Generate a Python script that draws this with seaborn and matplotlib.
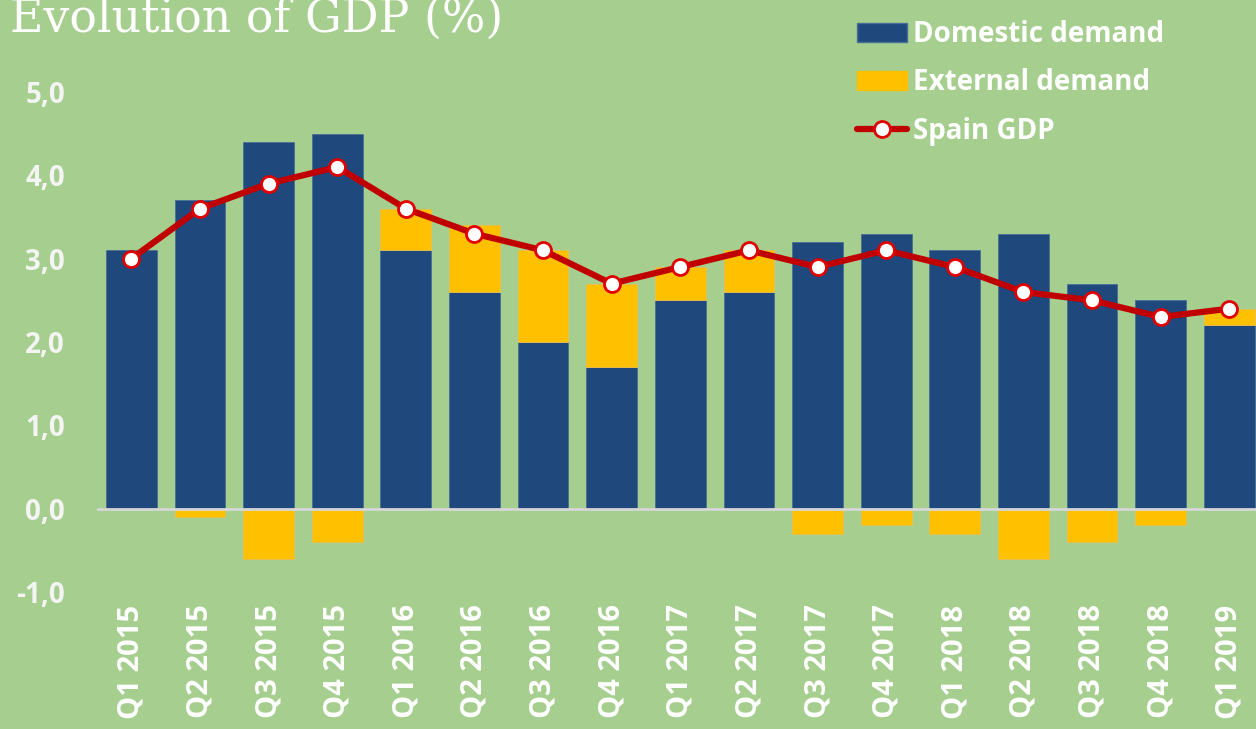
import matplotlib
matplotlib.use("Agg")
import matplotlib.pyplot as plt
from matplotlib.patches import Patch
from matplotlib.lines import Line2D
import numpy as np
import pandas as pd
import seaborn as sns

quarters = ["Q1 2015", "Q2 2015", "Q3 2015", "Q4 2015",
            "Q1 2016", "Q2 2016", "Q3 2016", "Q4 2016",
            "Q1 2017", "Q2 2017", "Q3 2017", "Q4 2017",
            "Q1 2018", "Q2 2018", "Q3 2018", "Q4 2018", "Q1 2019"]
domestic = [3.1, 3.7, 4.4, 4.5, 3.1, 2.6, 2.0, 1.7, 2.5, 2.6, 3.2, 3.3, 3.1, 3.3, 2.7, 2.5, 2.2]
external = [0.0, -0.1, -0.6, -0.4, 0.5, 0.8, 1.1, 1.0, 0.4, 0.5, -0.3, -0.2, -0.3, -0.6, -0.4, -0.2, 0.2]
gdp = [3.0, 3.6, 3.9, 4.1, 3.6, 3.3, 3.1, 2.7, 2.9, 3.1, 2.9, 3.1, 2.9, 2.6, 2.5, 2.3, 2.4]
y_ticks = [-1.0, 0.0, 1.0, 2.0, 3.0, 4.0, 5.0]

BG = "#a6ce8e"
NAVY = "#1f497d"
GOLD = "#ffc000"
RED = "#c00000"
LIGHT = "#f4f4f4"

sns.set_theme(style="white")
plt.rcParams["font.family"] = ["Open Sans", "DejaVu Sans"]

df = pd.DataFrame({"Quarter": quarters, "Domestic": domestic,
                   "External": external, "GDP": gdp})
pos = np.arange(len(df))
# external demand sits on top of domestic when positive, below zero when negative
ext_bottom = np.where(df["External"] > 0, df["Domestic"], 0.0)

fig = plt.figure(figsize=(12.56, 7.29), dpi=100, facecolor=BG)
ax = fig.add_axes([97 / 1256, 137 / 729, 1 - 97 / 1256, 500 / 729])
ax.set_facecolor(BG)

sns.barplot(data=df, x="Quarter", y="Domestic", color=NAVY, saturation=1,
            width=0.74, edgecolor="#4a6f98", linewidth=0.6, ax=ax, zorder=2)
ax.bar(pos, df["External"], bottom=ext_bottom, width=0.74, color=GOLD,
       edgecolor="#e8c050", linewidth=0.6, zorder=2)
ax.axhline(0, color="#d6d6d6", linewidth=2, zorder=3)
ax.plot(pos, df["GDP"], color=RED, linewidth=4.5, marker="o", markersize=11.5,
        markerfacecolor="white", markeredgecolor="#e00000", markeredgewidth=2,
        zorder=4)

ax.set_xlim(-0.5, 16.39)
ax.set_ylim(-1.0, 5.0)
ax.set_yticks(y_ticks)
ax.set_yticklabels([f"{t:.1f}".replace(".", ",") for t in y_ticks])
ax.set_xlabel("")
ax.set_ylabel("")
ax.tick_params(axis="y", length=0, pad=23, labelsize=20, labelcolor=LIGHT)
ax.tick_params(axis="x", length=0, pad=9, labelsize=21, labelcolor="white",
               rotation=90)
for lab in ax.get_xticklabels() + ax.get_yticklabels():
    lab.set_fontweight("bold")
for lab in ax.get_xticklabels():
    lab.set_va("top")
sns.despine(ax=ax, left=True, bottom=True)

fig.text(10 / 1256, 1 - 32 / 729, "Evolution of GDP (%)", family="DejaVu Serif",
         fontsize=33, color="white", va="baseline", ha="left")

handles = [Patch(facecolor=NAVY, edgecolor="#4a6f98", label="Domestic demand"),
           Patch(facecolor=GOLD, edgecolor=GOLD, label="External demand"),
           Line2D([], [], color=RED, linewidth=4.5, marker="o", markersize=11.5,
                  markerfacecolor="white", markeredgecolor="#e00000",
                  markeredgewidth=2, label="Spain GDP")]
leg = fig.legend(handles=handles, loc="upper left",
                 bbox_to_anchor=(857 / 1256, 1 - 20 / 729), frameon=False,
                 prop={"weight": "bold", "size": 20}, labelcolor="white",
                 handlelength=1.8, handleheight=0.7, handletextpad=0.2,
                 labelspacing=0.7, borderpad=0, borderaxespad=0)

fig.savefig("out.png", dpi=100, facecolor=BG)
